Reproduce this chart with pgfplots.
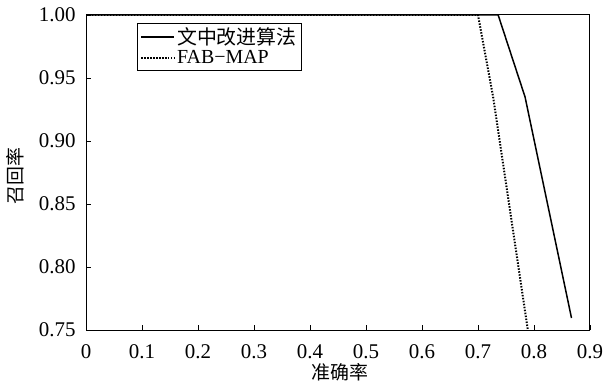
\documentclass[border=0pt]{standalone}
\usepackage{fontspec}
\setmainfont{Liberation Serif}
\newfontfamily\tnr{Liberation Serif}
\newfontfamily\cjk{Noto Sans CJK SC}
\usepackage{pgfplots}
\pgfplotsset{compat=1.18}
\begin{document}
\begin{tikzpicture}
\useasboundingbox (0,0) rectangle (607bp,383bp);
\begin{axis}[
  at={(86bp,53bp)}, anchor=south west,
  scale only axis, width=504bp, height=315bp,
  xmin=0, xmax=0.9, ymin=0.75, ymax=1.0,
  xtick={0,0.1,0.2,0.3,0.4,0.5,0.6,0.7,0.8,0.9},
  ytick={0.75,0.80,0.85,0.90,0.95,1.00},
  xticklabels={0,0.1,0.2,0.3,0.4,0.5,0.6,0.7,0.8,0.9},
  yticklabels={0.75,0.80,0.85,0.90,0.95,1.00},
  tick align=inside, xtick pos=bottom, ytick pos=left,
  major tick length=5bp,
  tick style={black, line width=0.8pt},
  axis line style={line width=1pt},
  every tick label/.append style={font=\tnr\fontsize{21}{24}\selectfont},
  every x tick label/.append style={anchor=center, yshift=-22bp},
  every y tick label/.append style={anchor=east, xshift=-7bp},
  xlabel={\cjk 准确率}, ylabel={\cjk 召回率},
  label style={font=\fontsize{19}{21}\selectfont},
  xlabel style={at={(axis description cs:0.504,-0.133)}, anchor=center},
  ylabel style={at={(axis description cs:-0.14,0.49)}, anchor=center},
  legend style={at={(0.101,0.975)}, anchor=north west, draw=black,
    font=\tnr\fontsize{20}{22}\selectfont, inner sep=3bp, row sep=0bp,
    legend cell align=left},
  legend image code/.code={\draw[#1] (0bp,0bp) -- (33bp,0bp);},
]
\addplot[black, line width=1.5pt] coordinates {(0,1.0) (0.736,1.0) (0.784,0.935) (0.867,0.7595)};
\addlegendentry{\cjk 文中改进算法}
\addplot[black, line width=2pt, dash pattern=on 1.5pt off 1.5pt] coordinates {(0,1.0) (0.700,1.0) (0.727,0.935) (0.789,0.75)};
\addlegendentry{FAB\textminus MAP}
\end{axis}
\end{tikzpicture}
\end{document}
